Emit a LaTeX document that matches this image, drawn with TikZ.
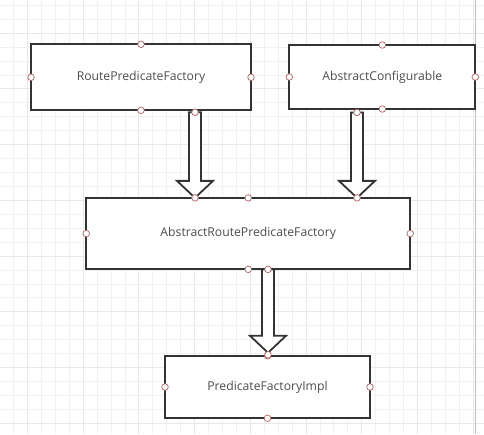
\documentclass[tikz,border=0pt]{standalone}
\usepackage{fontspec}
\setmainfont{Open Sans}
\usetikzlibrary{calc}
\definecolor{gridminor}{HTML}{F1F1F1}
\definecolor{gridmajor}{HTML}{E8E8E8}
\definecolor{pageedge}{HTML}{DDB0B0}
\definecolor{pin}{HTML}{B4625C}
\definecolor{boxline}{HTML}{333333}
\definecolor{boxtext}{HTML}{4D4D4D}
\tikzset{
  cls/.style = {
    rectangle, draw=boxline, fill=white, line width=1.8pt,
    text=boxtext, font=\fontsize{12.2}{14}\selectfont,
    inner sep=0pt, outer sep=0pt
  },
  pinpt/.style = {circle, draw=pin, fill=white, line width=0.7pt,
                  minimum size=6.6pt, inner sep=0pt},
  fat/.style  = {draw=boxline, fill=white, line width=1.8pt, line join=miter}
}
%% hollow block arrow from #1 down to #2
\newcommand\fatarrow[2]{%
  \draw[fat] let \p1=#1, \p2=#2 in
    (\x1-6pt,\y1) -- (\x1-6pt,\y2+17pt) -- (\x1-18pt,\y2+17pt) -- (\x1,\y2)
    -- (\x1+18pt,\y2+17pt) -- (\x1+6pt,\y2+17pt) -- (\x1+6pt,\y1) -- cycle;}

\begin{document}
\begin{tikzpicture}[x=1pt, y=-1pt]
  \useasboundingbox (0,0) rectangle (484,434);
  \fill[white] (0,0) rectangle (484,434);

  %% Grid
  \foreach \i in {0,...,34} {
    \pgfmathsetmacro\gx{13.5+13.93*(\i-1)}
    \pgfmathtruncatemacro\gm{mod(\i+2,4)}
    \ifnum\gm=0 \draw[gridmajor, line width=0.9pt] (\gx,0) -- (\gx,434);
    \else \draw[gridminor, line width=0.8pt] (\gx,0) -- (\gx,434); \fi
  }
  \foreach \i in {0,...,31} {
    \pgfmathsetmacro\gy{5.3+13.93*\i}
    \pgfmathtruncatemacro\gm{mod(\i+2,4)}
    \ifnum\gm=0 \draw[gridmajor, line width=0.9pt] (0,\gy) -- (484,\gy);
    \else \draw[gridminor, line width=0.8pt] (0,\gy) -- (484,\gy); \fi
  }
  \draw[pageedge, line width=0.9pt] (475,0) -- (475,434);

  %% Classes
  \node[cls, minimum width=220pt, minimum height=66pt] (rpf) at (141,77.3) {RoutePredicateFactory};
  \node[cls, minimum width=186pt, minimum height=64pt] (ac) at (382.3,77) {AbstractConfigurable};
  \node[cls, minimum width=324pt, minimum height=71.5pt] (arpf) at (248.2,233.6) {AbstractRoutePredicateFactory};
  \node[cls, minimum width=205pt, minimum height=62.5pt] (pfi) at (267.5,387) {PredicateFactoryImpl};

  %% Arrows
  \coordinate (c1) at (195,0);
  \coordinate (c2) at (357,0);
  \coordinate (c3) at (268,0);
  \fatarrow{($(c1 |- rpf.south)+(0,2)$)}{(c1 |- arpf.north)}
  \fatarrow{($(c2 |- ac.south)+(0,3.5)$)}{(c2 |- arpf.north)}
  \fatarrow{(c3 |- arpf.south)}{($(c3 |- pfi.north)+(0,-3)$)}

  %% Connection points
  \foreach \n in {rpf, ac, arpf, pfi}
    \foreach \a in {north, south, east, west}
      \node[pinpt] at (\n.\a) {};
  \node[pinpt] at ($(c1 |- rpf.south)+(0,2)$) {};
  \node[pinpt] at ($(c2 |- ac.south)+(0,3.5)$) {};
  \node[pinpt] at (c3 |- arpf.south) {};
  \node[pinpt] at (c1 |- arpf.north) {};
  \node[pinpt] at (c2 |- arpf.north) {};
  \node[pinpt] at ($(c3 |- pfi.north)+(0,-1)$) {};
\end{tikzpicture}
\end{document}
